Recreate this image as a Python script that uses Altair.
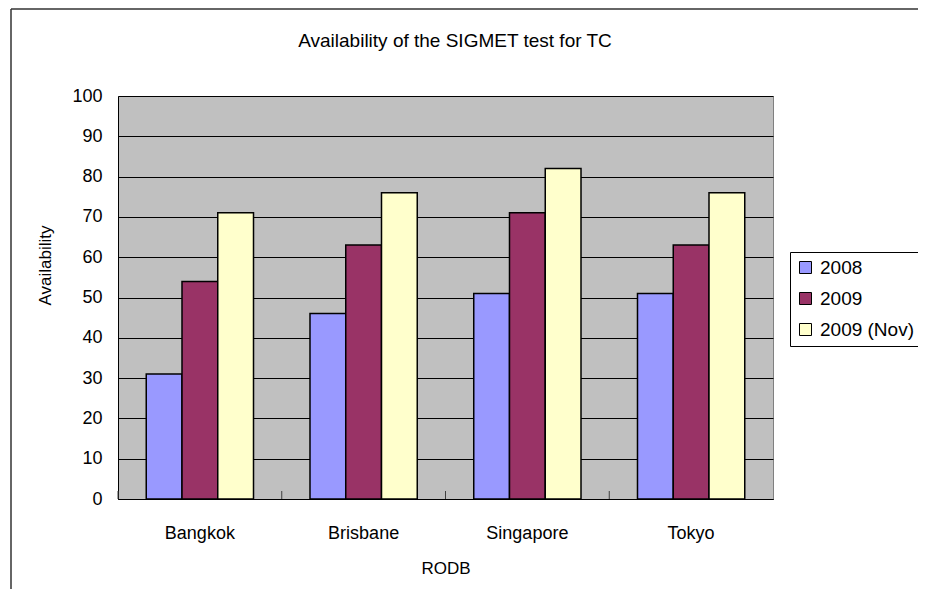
import altair as alt
import pandas as pd

cities = ["Bangkok", "Brisbane", "Singapore", "Tokyo"]
series = ["2008", "2009", "2009 (Nov)"]
values_2008 = [31, 46, 51, 51]
values_2009 = [54, 63, 71, 63]
values_2009_nov = [71, 76, 82, 76]
colors = ["#9999FF", "#993366", "#FFFFCC"]
y_ticks = [0, 10, 20, 30, 40, 50, 60, 70, 80, 90, 100]
title_text = "Availability of the SIGMET test for TC"

rows = []
for s, vals in zip(series, [values_2008, values_2009, values_2009_nov]):
    for c, v in zip(cities, vals):
        rows.append({"city": c, "series": s, "value": v})
df = pd.DataFrame(rows)
cat_df = pd.DataFrame({"city": cities})
title_df = pd.DataFrame({"t": [title_text]})

FONT = "Liberation Sans"
W, H = 655, 403

x_scale = alt.Scale(domain=cities, paddingInner=0, paddingOuter=0)

bars = alt.Chart(df).mark_bar(stroke="black", strokeWidth=1.5).encode(
    x=alt.X("city:N", scale=x_scale, sort=cities,
            axis=alt.Axis(title="RODB", labelAngle=0, ticks=False, labelPadding=25,
                          titlePadding=18, domainColor="black", labelFont=FONT,
                          labelFontSize=18, titleFont=FONT, titleFontSize=17,
                          titleFontWeight="normal", labelColor="black", titleColor="black")),
    xOffset=alt.XOffset("series:N", sort=series,
                        scale=alt.Scale(paddingInner=0, paddingOuter=0.79)),
    y=alt.Y("value:Q", scale=alt.Scale(domain=[0, 100], nice=False),
            axis=alt.Axis(title="Availability", values=y_ticks, ticks=False,
                          labelPadding=16, titlePadding=17, titleY=169, grid=True,
                          gridColor="black", gridOpacity=1, gridWidth=1,
                          domainColor="black", labelFont=FONT, labelFontSize=18,
                          titleFont=FONT, titleFontSize=17, titleFontWeight="normal",
                          labelColor="black", titleColor="black")),
    color=alt.Color("series:N", sort=series,
                    scale=alt.Scale(domain=series, range=colors),
                    legend=alt.Legend(title=None, orient="none", legendX=672, legendY=156,
                                      symbolType="square", symbolSize=144,
                                      symbolStrokeColor="black", symbolStrokeWidth=1,
                                      symbolOpacity=1, labelFont=FONT, labelFontSize=19,
                                      labelColor="black", rowPadding=11, padding=6,
                                      strokeColor="black", fillColor="white",
                                      labelOffset=5)),
)

cat_ticks = alt.Chart(cat_df).mark_rule(color="#404040", strokeWidth=1).encode(
    x=alt.X("city:N", scale=x_scale, sort=cities, bandPosition=0),
    y=alt.value(H - 8),
    y2=alt.value(H),
)

title_mark = alt.Chart(title_df).mark_text(
    font=FONT, fontSize=19, color="black", align="center", baseline="alphabetic"
).encode(text="t:N", x=alt.value(337), y=alt.value(-49))

frame_top = alt.Chart(cat_df.head(1)).mark_rule(color="#333333", strokeWidth=1.5).encode(
    x=alt.value(-107), x2=alt.value(W + 145), y=alt.value(-87), y2=alt.value(-87)
)
frame_left = alt.Chart(cat_df.head(1)).mark_rule(color="#333333", strokeWidth=1.5).encode(
    x=alt.value(-107), x2=alt.value(-107), y=alt.value(-87), y2=alt.value(H + 95)
)

chart = alt.layer(bars, cat_ticks, title_mark, frame_top, frame_left).properties(
    width=W, height=H,
    autosize=alt.AutoSizeParams(type="none"),
    padding={"left": 110, "top": 88, "right": 145, "bottom": 90},
).configure_view(fill="#C0C0C0", stroke="#808080", strokeWidth=1)

chart.save("out.html", embed_options={"renderer": "svg", "actions": False})
